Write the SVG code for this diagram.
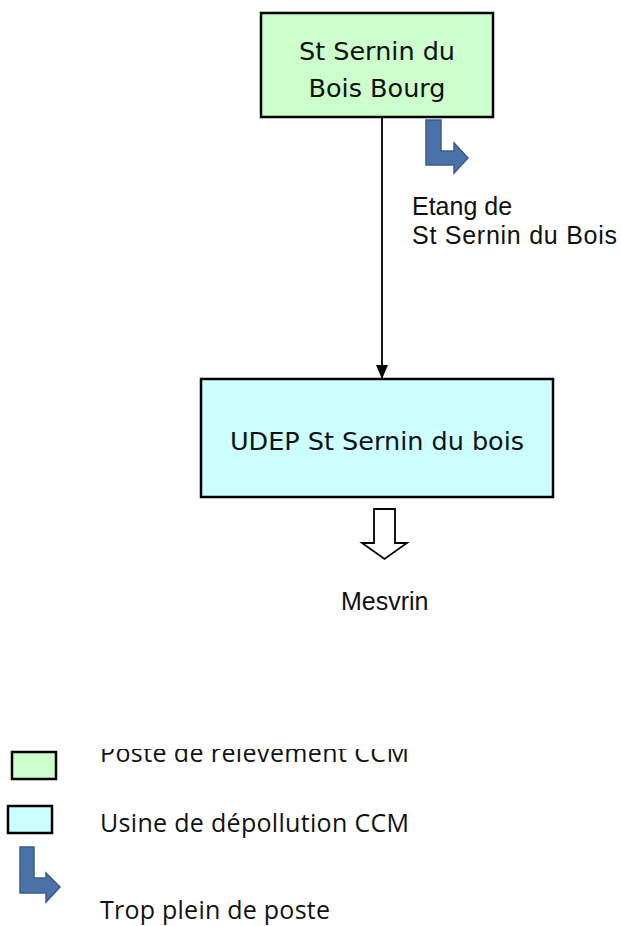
<svg xmlns="http://www.w3.org/2000/svg" width="621" height="926" viewBox="0 0 621 926">
<style>
.box{stroke:#000;stroke-width:2.5}
.green{fill:#ccffcc}
.cyan{fill:#ccffff}
.bt{font-family:"DejaVu Sans",sans-serif;font-size:25.5px;fill:#111;text-anchor:middle}
.lbl{font-family:"Liberation Sans",Arial,sans-serif;font-size:25px;fill:#111}
.leg{font-family:"Open Sans","Noto Sans",sans-serif;font-size:25px;fill:#111}
.ovf{fill:#4a71a8;stroke:#385d8a;stroke-width:1.5}
</style>
<defs>
<marker id="ah" markerWidth="14" markerHeight="12" refX="14" refY="6" orient="auto" markerUnits="userSpaceOnUse" viewBox="0 0 14 12">
<path d="M0,0 L14,6 L0,12 Z" fill="#000"/>
</marker>
<clipPath id="clipPoste"><rect x="90" y="749" width="340" height="30"/></clipPath>
</defs>
<rect width="621" height="926" fill="#fff"/>
<g id="connectors">
<line x1="382" y1="118" x2="382" y2="379" stroke="#000" stroke-width="1.8" marker-end="url(#ah)"/>
<path id="overflow1" class="ovf" d="M426,120 L441,120 L441,151 L454,151 L454,143 L468,158 L454,173 L454,165 L426,165 Z"/>
<path id="outflow" d="M374,509 L395,509 L395,543 L407,543 L384.5,559 L362,543 L374,543 Z" fill="#fff" stroke="#000" stroke-width="1.8"/>
</g>
<g id="node-bourg">
<rect class="box green" x="261" y="13" width="232" height="104"/>
<text class="bt" x="377" y="60">St Sernin du</text>
<text class="bt" x="377" y="97">Bois Bourg</text>
</g>
<g id="label-etang">
<text class="lbl" x="412" y="215">Etang de</text>
<text class="lbl" x="412" y="244" textLength="205">St Sernin du Bois</text>
</g>
<g id="node-udep">
<rect class="box cyan" x="201" y="379" width="352" height="118"/>
<text class="bt" x="377" y="450">UDEP St Sernin du bois</text>
</g>
<g id="label-mesvrin">
<text class="lbl" x="341" y="610" font-size="26">Mesvrin</text>
</g>
<g id="legend">
<rect class="box green" x="12" y="752" width="44" height="27" stroke-width="2"/>
<text class="leg" x="100" y="762" textLength="309" clip-path="url(#clipPoste)">Poste de relevement CCM</text>
<rect class="box cyan" x="8" y="806" width="44" height="27" stroke-width="2"/>
<text class="leg" x="100" y="832" textLength="309">Usine de dépollution CCM</text>
<path class="ovf" d="M20,847 L34,847 L34,878 L46,878 L46,873 L60,887 L46,902 L46,893 L20,893 Z"/>
<text class="leg" x="100" y="919" textLength="230">Trop plein de poste</text>
</g>
</svg>
